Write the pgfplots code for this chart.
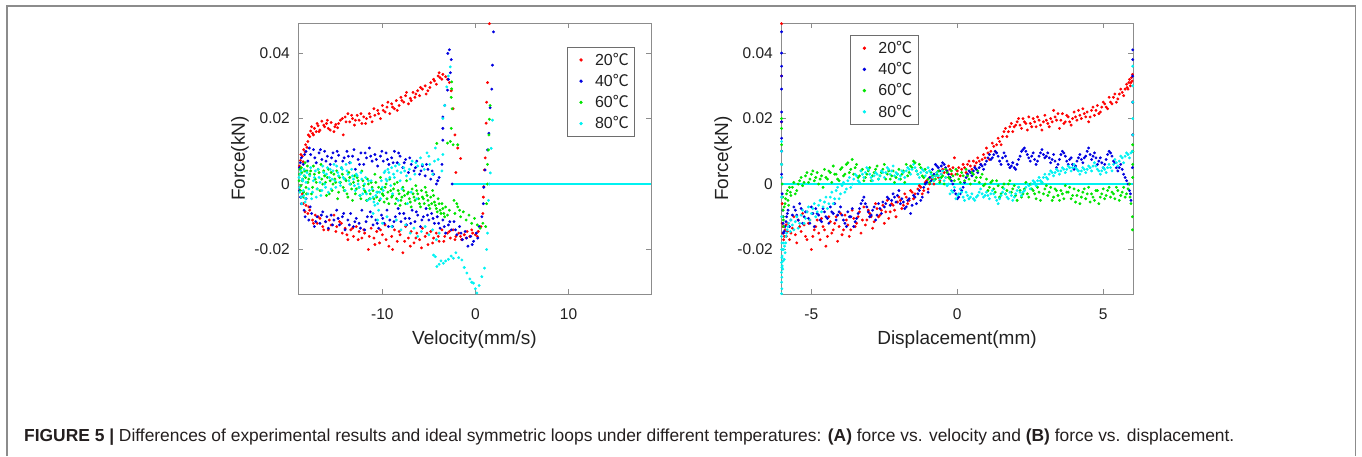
\documentclass[border=0pt]{standalone}
\usepackage{pgfplots}
\usepackage{pgfplotstable}
\pgfplotsset{compat=1.18}
\usepackage{fontspec}
\setmainfont{Liberation Sans}
\newfontfamily\cjk{Noto Sans CJK SC}
\definecolor{mred}{rgb}{1,0,0}
\definecolor{mblue}{rgb}{0,0,0.88}
\definecolor{mgreen}{rgb}{0,0.9,0}
\definecolor{mcyan}{rgb}{0,0.95,0.95}
\definecolor{axgray}{rgb}{0.55,0.55,0.55}
\definecolor{leggray}{rgb}{0.43,0.43,0.43}
\definecolor{txt}{rgb}{0.13,0.13,0.13}
\definecolor{captxt}{rgb}{0.14,0.12,0.12}
\definecolor{framegray}{rgb}{0.55,0.55,0.55}

% ---------------- Panel A: force vs velocity ----------------
\pgfplotstableread{
x y
-18.9 0.0055
-18.8 0.0072
-18.6 0.0085
-18.5 0.0068
-18.3 0.0098
-18.1 0.0112
-18.0 0.0130
-17.8 0.0145
-17.7 0.0162
-17.5 0.0155
-17.3 0.0170
-17.1 0.0160
-16.9 0.0178
-16.7 0.0165
-16.5 0.0192
-16.2 0.0175
-16.0 0.0185
-15.8 0.0170
-15.5 0.0188
-15.2 0.0160
-15.0 0.0182
-14.8 0.0172
-14.5 0.0195
-14.2 0.0150
-14.0 0.0205
-13.7 0.0215
-13.5 0.0190
-13.2 0.0200
-13.0 0.0180
-12.7 0.0210
-12.5 0.0195
-12.2 0.0185
-12.0 0.0205
-11.7 0.0200
-11.4 0.0215
-11.1 0.0190
-10.8 0.0210
-10.5 0.0225
-10.2 0.0200
-10.0 0.0240
-9.7 0.0220
-9.5 0.0235
-9.2 0.0215
-9.0 0.0245
-8.7 0.0230
-8.5 0.0255
-8.2 0.0240
-8.0 0.0265
-7.7 0.0250
-7.5 0.0270
-7.2 0.0245
-7.0 0.0262
-6.7 0.0280
-6.5 0.0265
-6.2 0.0285
-6.0 0.0270
-5.7 0.0290
-5.4 0.0300
-5.1 0.0285
-4.8 0.0310
-4.5 0.0320
-4.2 0.0305
-4.0 0.0330
-3.8 0.0325
-3.5 0.0335
-3.2 0.0328
-3.0 0.0320
-2.8 0.0310
-2.6 0.0285
-2.4 0.0230
-2.2 0.0150
-1.9 0.0110
-1.6 0.0078
-2.1 0.0035
-18.9 -0.0010
-18.7 -0.0040
-18.5 -0.0060
-18.2 -0.0065
-18.0 -0.0090
-17.8 -0.0080
-17.5 -0.0110
-17.2 -0.0095
-17.0 -0.0120
-16.7 -0.0105
-16.4 -0.0130
-16.1 -0.0115
-15.8 -0.0140
-15.5 -0.0125
-15.2 -0.0095
-14.9 -0.0130
-14.6 -0.0115
-14.3 -0.0150
-14.0 -0.0135
-13.7 -0.0170
-13.4 -0.0140
-13.1 -0.0160
-12.8 -0.0130
-12.5 -0.0145
-12.2 -0.0165
-11.9 -0.0150
-11.5 -0.0200
-11.2 -0.0135
-10.9 -0.0165
-10.6 -0.0145
-10.3 -0.0180
-10.0 -0.0155
-9.7 -0.0125
-9.3 -0.0190
-9.0 -0.0160
-8.7 -0.0140
-8.4 -0.0175
-8.1 -0.0155
-7.8 -0.0210
-7.5 -0.0130
-7.2 -0.0165
-6.9 -0.0145
-6.6 -0.0180
-6.3 -0.0150
-6.0 -0.0170
-5.7 -0.0135
-5.4 -0.0160
-5.1 -0.0185
-4.8 -0.0145
-4.5 -0.0165
-4.2 -0.0150
-3.9 -0.0175
-3.6 -0.0140
-3.3 -0.0160
-3.0 -0.0150
-2.7 -0.0165
-2.4 -0.0140
-2.1 -0.0160
-1.8 -0.0150
-1.5 -0.0170
-1.2 -0.0155
-0.9 -0.0145
-0.6 -0.0160
-0.3 -0.0150
0.0 -0.0155
0.3 -0.0145
0.6 -0.0130
0.8 -0.0090
0.85 -0.0040
0.9 -0.0008
0.97 0.0043
1.05 0.0080
1.15 0.0186
1.2 0.0250
1.3 0.0310
1.5 0.0490
}\redA
\pgfplotstableread{
x y
-18.75 0.0090
-18.45 0.0105
-18.25 0.0120
-17.95 0.0150
-17.6 0.0175
-17.4 0.0150
-17.0 0.0185
-16.8 0.0160
-16.3 0.0180
-15.9 0.0195
-15.6 0.0165
-15.1 0.0175
-14.7 0.0185
-14.3 0.0200
-13.9 0.0190
-13.3 0.0210
-12.9 0.0195
-12.3 0.0215
-11.8 0.0185
-11.3 0.0205
-10.9 0.0230
-10.4 0.0215
-9.9 0.0225
-9.4 0.0250
-8.9 0.0235
-8.4 0.0225
-7.9 0.0255
-7.4 0.0280
-6.9 0.0255
-6.4 0.0275
-5.9 0.0295
-5.3 0.0275
-4.9 0.0295
-4.4 0.0315
-3.9 0.0340
-3.6 0.0320
-18.6 -0.0030
-18.3 -0.0085
-17.9 -0.0070
-17.4 -0.0120
-16.9 -0.0100
-16.3 -0.0140
-15.7 -0.0110
-15.0 -0.0145
-14.4 -0.0120
-13.8 -0.0155
-13.2 -0.0135
-12.6 -0.0170
-12.0 -0.0140
-11.4 -0.0160
-10.8 -0.0185
-10.2 -0.0140
-9.6 -0.0170
-8.9 -0.0200
-8.2 -0.0145
-7.6 -0.0175
-7.0 -0.0190
-6.4 -0.0165
-5.8 -0.0195
-5.2 -0.0150
-4.6 -0.0180
-4.0 -0.0160
-3.4 -0.0175
-2.8 -0.0145
-2.2 -0.0170
-1.6 -0.0160
-1.0 -0.0165
-0.4 -0.0140
0.2 -0.0160
}\redAx

\pgfplotstableread{
x y
-18.9 0.0050
-18.7 0.0080
-18.5 0.0060
-18.2 0.0100
-18.0 0.0070
-17.7 0.0090
-17.4 0.0105
-17.1 0.0065
-16.8 0.0095
-16.5 0.0075
-16.2 0.0100
-15.9 0.0085
-15.6 0.0060
-15.3 0.0095
-15.0 0.0070
-14.7 0.0088
-14.4 0.0050
-14.1 0.0080
-13.8 0.0100
-13.5 0.0065
-13.2 0.0085
-12.9 0.0045
-12.6 0.0075
-12.3 0.0095
-12.0 0.0060
-11.7 0.0080
-11.4 0.0110
-11.1 0.0070
-10.8 0.0090
-10.5 0.0055
-10.2 0.0085
-9.9 0.0070
-9.6 0.0095
-9.3 0.0060
-9.0 0.0080
-8.7 0.0100
-8.4 0.0065
-8.1 0.0085
-7.8 0.0050
-7.5 0.0075
-7.2 0.0035
-6.9 0.0060
-6.6 0.0040
-6.3 0.0070
-6.0 0.0030
-5.7 0.0055
-5.4 0.0025
-5.1 0.0045
-4.8 0.0015
-4.5 0.0030
-4.2 0.0000
-3.9 0.0020
-3.6 0.0060
-3.5 0.0134
-3.5 0.0170
-3.5 0.0205
-3.3 0.0240
-3.0 0.0287
-2.9 0.0320
-2.7 0.0340
-2.97 0.0399
-2.8 0.0410
-2.6 0.0380
-2.5 0.0000
-18.9 -0.0020
-18.7 -0.0060
-18.4 -0.0080
-18.2 -0.0045
-17.9 -0.0110
-17.6 -0.0090
-17.3 -0.0130
-17.0 -0.0100
-16.7 -0.0120
-16.4 -0.0085
-16.1 -0.0115
-15.8 -0.0135
-15.5 -0.0095
-15.2 -0.0110
-14.9 -0.0080
-14.6 -0.0125
-14.3 -0.0100
-14.0 -0.0140
-13.7 -0.0110
-13.4 -0.0090
-13.1 -0.0130
-12.8 -0.0105
-12.5 -0.0120
-12.2 -0.0080
-11.9 -0.0140
-11.6 -0.0100
-11.3 -0.0085
-11.0 -0.0125
-10.7 -0.0110
-10.4 -0.0135
-10.1 -0.0095
-9.8 -0.0120
-9.5 -0.0080
-9.2 -0.0110
-8.9 -0.0130
-8.6 -0.0100
-8.3 -0.0075
-8.0 -0.0115
-7.7 -0.0090
-7.4 -0.0125
-7.1 -0.0105
-6.8 -0.0080
-6.5 -0.0115
-6.2 -0.0095
-5.9 -0.0130
-5.6 -0.0100
-5.3 -0.0075
-5.0 -0.0110
-4.7 -0.0090
-4.4 -0.0120
-4.1 -0.0100
-3.8 -0.0135
-3.5 -0.0110
-3.2 -0.0150
-2.9 -0.0125
-2.6 -0.0140
-2.3 -0.0115
-2.0 -0.0155
-1.7 -0.0130
-1.4 -0.0170
-1.1 -0.0145
-0.8 -0.0190
-0.5 -0.0160
-0.2 -0.0175
0.1 -0.0150
0.4 -0.0130
0.7 -0.0100
0.85 -0.0060
0.9 -0.0010
1.04 0.0043
1.3 0.0104
1.44 0.0155
1.58 0.0233
1.76 0.0290
1.83 0.0363
1.94 0.0465
}\blueA
\pgfplotstableread{
x y
-18.8 0.0065
-18.35 0.0090
-17.85 0.0110
-17.25 0.0080
-16.65 0.0105
-16.05 0.0070
-15.45 0.0080
-14.85 0.0100
-14.25 0.0070
-13.65 0.0085
-13.05 0.0105
-12.45 0.0060
-11.85 0.0095
-11.25 0.0085
-10.65 0.0075
-10.05 0.0100
-9.45 0.0075
-8.85 0.0065
-8.25 0.0095
-7.65 0.0065
-7.05 0.0080
-6.45 0.0050
-5.85 0.0040
-5.25 0.0060
-4.65 0.0040
-4.05 0.0010
-18.8 -0.0040
-18.3 -0.0100
-17.75 -0.0070
-17.15 -0.0115
-16.55 -0.0095
-15.95 -0.0100
-15.35 -0.0125
-14.75 -0.0105
-14.15 -0.0090
-13.55 -0.0125
-12.95 -0.0115
-12.35 -0.0135
-11.75 -0.0115
-11.15 -0.0100
-10.55 -0.0120
-9.95 -0.0105
-9.35 -0.0130
-8.75 -0.0115
-8.15 -0.0090
-7.55 -0.0105
-6.95 -0.0120
-6.35 -0.0085
-5.75 -0.0110
-5.15 -0.0095
-4.55 -0.0105
-3.95 -0.0120
-3.35 -0.0130
-2.75 -0.0115
-2.15 -0.0140
-1.55 -0.0150
-0.95 -0.0165
-0.35 -0.0185
0.25 -0.0165
}\blueAx

\pgfplotstableread{
x y
-18.9 0.0030
-18.8 -0.0020
-18.7 0.0050
-18.6 0.0010
-18.5 -0.0040
-18.4 0.0025
-18.3 0.0065
-18.2 -0.0010
-18.1 0.0040
-18.0 0.0005
-17.8 0.0030
-17.6 -0.0030
-17.4 0.0055
-17.2 0.0015
-17.0 -0.0015
-16.8 0.0035
-16.6 0.0060
-16.4 0.0000
-16.2 0.0025
-16.0 -0.0035
-15.8 0.0045
-15.6 0.0010
-15.4 -0.0020
-15.2 0.0030
-15.0 0.0005
-14.8 -0.0045
-14.6 0.0020
-14.4 0.0050
-14.2 -0.0010
-14.0 0.0015
-13.8 -0.0030
-13.6 0.0035
-13.4 0.0000
-13.2 -0.0050
-13.0 0.0025
-12.8 -0.0015
-12.6 0.0010
-12.4 -0.0035
-12.2 0.0040
-12.0 -0.0005
-11.8 -0.0025
-11.6 0.0015
-11.4 -0.0045
-11.2 0.0005
-11.0 -0.0020
-10.8 0.0030
-10.6 -0.0040
-10.4 -0.0010
-10.2 0.0020
-10.0 -0.0030
-9.8 -0.0055
-9.6 0.0000
-9.4 -0.0025
-9.2 0.0015
-9.0 -0.0040
-8.8 -0.0015
-8.6 -0.0060
-8.4 0.0005
-8.2 -0.0030
-8.0 -0.0050
-7.8 -0.0010
-7.6 -0.0035
-7.4 0.0010
-7.2 -0.0025
-7.0 -0.0055
-6.8 -0.0015
-6.6 -0.0040
-6.4 -0.0005
-6.2 -0.0030
-6.0 -0.0060
-5.8 -0.0020
-5.6 -0.0045
-5.4 -0.0010
-5.2 -0.0035
-5.0 -0.0065
-4.8 -0.0040
-4.6 -0.0020
-4.4 -0.0055
-4.2 -0.0075
-4.0 -0.0045
-3.8 -0.0080
-3.6 -0.0060
-3.4 -0.0090
-3.2 -0.0070
-3.0 -0.0095
-4.15 0.0124
-3.0 0.0125
-2.7 0.0130
-2.4 0.0120
-1.9 0.0120
-2.6 0.0170
-2.5 0.0230
-2.6 0.0265
-2.55 0.0291
-2.55 0.0312
-2.3 -0.0050
-2.0 -0.0060
-1.7 -0.0080
-2.8 -0.0080
-2.2 -0.0090
-1.9 -0.0070
-1.6 -0.0100
-1.3 -0.0085
-1.0 -0.0110
-0.7 -0.0095
-0.4 -0.0120
-0.1 -0.0105
0.2 -0.0125
0.5 -0.0135
0.8 -0.0120
1.1 -0.0130
1.2 -0.0060
1.3 0.0000
1.3 0.0060
1.4 0.0104
1.45 0.0150
1.5 0.0198
1.58 0.0240
}\greenA
\pgfplotstableread{
x y
-18.95 0.0010
-18.85 0.0045
-18.75 -0.0005
-18.65 0.0035
-18.55 0.0015
-18.45 -0.0025
-18.35 0.0040
-18.25 0.0020
-18.15 -0.0030
-18.05 0.0055
-17.9 0.0015
-17.7 0.0040
-17.5 -0.0010
-17.3 0.0030
-17.1 0.0005
-16.9 0.0045
-16.7 -0.0020
-16.5 0.0015
-16.3 0.0040
-16.1 0.0005
-15.9 0.0020
-15.7 -0.0030
-15.5 0.0035
-15.3 0.0000
-15.1 0.0015
-14.9 0.0040
-14.7 -0.0025
-14.5 0.0005
-14.3 0.0030
-14.1 -0.0020
-13.9 0.0010
-13.7 -0.0040
-13.5 0.0020
-13.3 -0.0015
-13.1 0.0005
-12.9 -0.0030
-12.7 0.0020
-12.5 -0.0010
-12.3 -0.0045
-12.1 0.0010
-11.9 -0.0020
-11.7 -0.0050
-11.5 0.0000
-11.3 -0.0030
-11.1 -0.0010
-10.9 -0.0045
-10.7 0.0005
-10.5 -0.0025
-10.3 -0.0050
-10.1 -0.0015
-9.9 -0.0035
-9.7 -0.0010
-9.5 -0.0045
-9.3 -0.0060
-9.1 -0.0020
-8.9 -0.0035
-8.7 0.0000
-8.5 -0.0045
-8.3 -0.0020
-8.1 -0.0065
-7.9 -0.0040
-7.7 -0.0020
-7.5 -0.0060
-7.3 -0.0030
-7.1 -0.0045
-6.9 -0.0070
-6.7 -0.0030
-6.5 -0.0050
-6.3 -0.0020
-6.1 -0.0045
-5.9 -0.0070
-5.7 -0.0040
-5.5 -0.0060
-5.3 -0.0025
-5.1 -0.0050
-4.9 -0.0075
-4.7 -0.0060
-4.5 -0.0035
-4.3 -0.0065
-4.1 -0.0085
-3.9 -0.0060
-3.7 -0.0090
-3.5 -0.0075
-3.3 -0.0100
}\greenAx

\pgfplotstableread{
x y
-18.9 -0.0010
-18.8 0.0030
-18.7 -0.0040
-18.6 0.0015
-18.5 -0.0020
-18.4 0.0045
-18.3 -0.0055
-18.2 0.0005
-18.0 -0.0030
-17.8 0.0025
-17.6 -0.0045
-17.4 0.0010
-17.2 0.0040
-17.0 -0.0015
-16.8 0.0020
-16.6 -0.0035
-16.4 0.0055
-16.2 0.0000
-16.0 0.0030
-15.8 -0.0025
-15.6 0.0045
-15.4 0.0015
-15.2 0.0060
-15.0 -0.0010
-14.8 0.0035
-14.6 0.0005
-14.4 0.0050
-14.2 0.0020
-14.0 -0.0020
-13.8 0.0040
-13.6 0.0010
-13.4 0.0065
-13.2 0.0025
-13.0 -0.0005
-12.8 0.0030
-12.6 0.0000
-12.4 -0.0035
-12.2 0.0015
-12.0 -0.0015
-11.8 0.0020
-11.6 -0.0050
-11.4 -0.0020
-11.2 0.0010
-11.0 -0.0040
-10.8 -0.0065
-10.6 -0.0025
-10.4 -0.0080
-10.2 -0.0045
-10.0 -0.0010
-9.8 0.0035
-9.6 0.0015
-9.4 0.0045
-9.2 0.0020
-9.0 0.0050
-8.8 0.0030
-8.6 0.0055
-8.4 0.0040
-8.2 0.0060
-8.0 0.0035
-7.7 0.0050
-7.4 0.0025
-7.1 0.0045
-6.8 0.0070
-6.5 0.0030
-6.2 0.0055
-5.9 0.0080
-5.5 0.0045
-5.2 0.0095
-4.9 0.0060
-4.6 0.0030
-4.3 0.0110
-4.0 0.0075
-8.9 -0.0030
-8.3 -0.0050
-7.9 -0.0015
-7.3 -0.0060
-6.9 -0.0025
-6.3 -0.0045
-11.0 -0.0090
-10.5 -0.0110
-10.0 -0.0120
-9.5 -0.0100
-9.0 -0.0130
-8.5 -0.0110
-8.0 -0.0140
-7.5 -0.0125
-7.0 -0.0150
-6.6 -0.0135
-6.2 -0.0160
-5.8 -0.0145
-5.4 -0.0130
-5.0 -0.0155
-4.6 -0.0140
-4.2 -0.0170
-3.9 -0.0150
-4.5 -0.0217
-4.3 -0.0222
-4.15 -0.0252
-3.9 -0.0245
-3.7 -0.0235
-3.44 -0.0242
-3.2 -0.0235
-2.9 -0.0230
-2.6 -0.0220
-2.37 -0.0227
-2.1 -0.0210
-1.8 -0.0225
-1.46 -0.0232
-1.2 -0.0255
-0.92 -0.0272
-0.6 -0.0290
-0.4 -0.0300
-0.21 -0.0303
0.0 -0.0320
0.15 -0.0333
0.4 -0.0310
0.69 -0.0283
0.97 -0.0257
1.2 -0.0200
1.3 -0.0150
-3.6 0.0040
-3.5 0.0090
-3.5 0.0200
-3.3 0.0240
-3.08 0.0297
-2.9 0.0330
-2.7 0.0358
1.4 -0.0050
1.5 0.0000
1.6 0.0034
1.69 0.0109
1.83 0.0195
}\cyanA
\pgfplotstableread{
x y
-18.95 0.0020
-18.85 -0.0025
-18.75 0.0040
-18.65 -0.0060
-18.55 0.0010
-18.45 -0.0035
-18.35 0.0025
-18.25 -0.0045
-18.1 0.0035
-17.9 -0.0015
-17.7 0.0050
-17.5 -0.0025
-17.3 0.0020
-17.1 -0.0040
-16.9 0.0045
-16.7 0.0005
-16.5 -0.0020
-16.3 0.0035
-16.1 -0.0010
-15.9 0.0050
-15.7 0.0020
-15.5 -0.0015
-15.3 0.0040
-15.1 0.0010
-14.9 0.0055
-14.7 0.0025
-14.5 -0.0005
-14.3 0.0045
-14.1 0.0015
-13.9 0.0060
-13.7 0.0030
-13.5 0.0000
-13.3 0.0045
-13.1 0.0015
-12.9 -0.0020
-12.7 0.0025
-12.5 -0.0010
-12.3 0.0035
-12.1 -0.0030
-11.9 0.0000
-11.7 -0.0030
-11.5 0.0010
-11.3 -0.0045
-11.1 -0.0015
-10.9 -0.0055
-10.7 -0.0035
-10.5 -0.0060
-10.3 -0.0025
-10.1 0.0010
-9.9 -0.0020
-9.7 0.0040
-9.5 0.0010
-9.3 0.0035
-9.1 -0.0005
-8.7 0.0020
-8.1 0.0010
-7.6 0.0040
-7.0 0.0015
-6.4 0.0065
-5.7 0.0060
-5.0 0.0085
-4.4 0.0070
}\cyanAx

% ---------------- Panel B: force vs displacement ----------------
\pgfplotstableread{
x y
-6.02 0.0490
-6.02 0.0330
-6.02 0.0190
-6.02 0.0100
-6.02 0.0020
-6.0 -0.0060
-6.0 -0.0120
-5.98 -0.0150
-5.95 -0.0170
-5.9 -0.0140
-5.85 -0.0160
-5.8 -0.0120
-5.7 -0.0150
-5.6 -0.0100
-5.5 -0.0180
-5.4 -0.0130
-5.3 -0.0090
-5.2 -0.0160
-5.1 -0.0120
-5.0 -0.0200
-4.9 -0.0140
-4.8 -0.0110
-4.7 -0.0170
-4.6 -0.0130
-4.5 -0.0190
-4.4 -0.0100
-4.3 -0.0150
-4.2 -0.0120
-4.1 -0.0175
-4.0 -0.0090
-3.9 -0.0140
-3.8 -0.0110
-3.7 -0.0160
-3.6 -0.0080
-3.5 -0.0130
-3.4 -0.0100
-3.3 -0.0150
-3.2 -0.0070
-3.1 -0.0110
-3.0 -0.0090
-2.9 -0.0135
-2.8 -0.0060
-2.7 -0.0100
-2.6 -0.0080
-2.5 -0.0120
-2.4 -0.0050
-2.3 -0.0085
-2.2 -0.0065
-2.1 -0.0100
-2.0 -0.0040
-1.9 -0.0075
-1.8 -0.0030
-1.7 -0.0060
-1.6 -0.0020
-1.5 -0.0045
-1.3 -0.0005
-1.2 -0.0030
-1.1 0.0005
-1.0 -0.0015
-0.9 0.0020
-0.8 0.0000
-0.7 0.0035
-0.6 0.0010
-0.5 0.0045
-0.4 0.0020
-0.3 0.0055
-0.2 0.0030
-0.1 0.0080
0.0 0.0040
0.1 0.0025
0.2 0.0060
0.3 0.0035
0.4 0.0070
0.5 0.0045
0.6 0.0055
0.7 0.0080
0.8 0.0060
0.9 0.0090
1.0 0.0110
1.1 0.0075
1.2 0.0125
1.3 0.0100
1.4 0.0140
1.5 0.0120
1.6 0.0160
1.7 0.0145
1.8 0.0175
1.9 0.0160
2.0 0.0180
2.1 0.0200
2.2 0.0170
2.3 0.0190
2.4 0.0165
2.5 0.0185
2.6 0.0200
2.7 0.0175
2.8 0.0195
2.9 0.0165
3.0 0.0210
3.1 0.0185
3.2 0.0200
3.3 0.0225
3.4 0.0195
3.5 0.0170
3.6 0.0215
3.7 0.0190
3.8 0.0205
3.9 0.0180
4.0 0.0220
4.1 0.0195
4.2 0.0210
4.3 0.0230
4.4 0.0205
4.5 0.0190
4.6 0.0225
4.7 0.0210
4.8 0.0240
4.9 0.0220
5.0 0.0250
5.1 0.0235
5.2 0.0265
5.3 0.0245
5.4 0.0275
5.5 0.0260
5.6 0.0290
5.7 0.0270
5.8 0.0305
5.85 0.0290
5.9 0.0320
5.95 0.0310
6.0 0.0335
6.01 0.0250
6.01 0.0150
6.01 0.0100
}\redB
\pgfplotstableread{
x y
-5.97 -0.0130
-5.93 -0.0160
-5.87 -0.0125
-5.82 -0.0145
-5.75 -0.0170
-5.65 -0.0135
-5.55 -0.0155
-5.45 -0.0110
-5.35 -0.0145
-5.25 -0.0125
-5.15 -0.0170
-5.05 -0.0110
-4.95 -0.0160
-4.85 -0.0130
-4.75 -0.0150
-4.65 -0.0105
-4.55 -0.0140
-4.45 -0.0160
-4.35 -0.0115
-4.25 -0.0140
-4.15 -0.0100
-4.05 -0.0130
-3.95 -0.0155
-3.85 -0.0095
-3.75 -0.0125
-3.65 -0.0140
-3.55 -0.0105
-3.45 -0.0120
-3.35 -0.0085
-3.25 -0.0110
-3.15 -0.0125
-3.05 -0.0080
-2.95 -0.0100
-2.85 -0.0115
-2.75 -0.0075
-2.65 -0.0095
-2.55 -0.0065
-2.45 -0.0085
-2.35 -0.0105
-2.25 -0.0060
-2.15 -0.0080
-2.05 -0.0055
-1.95 -0.0050
-1.85 -0.0065
-1.75 -0.0040
-1.65 -0.0050
-1.55 -0.0025
-1.45 -0.0030
-1.35 -0.0015
-1.25 -0.0010
-1.15 -0.0020
-1.05 0.0010
-0.95 0.0000
-0.85 0.0015
-0.75 0.0025
-0.65 0.0020
-0.55 0.0030
-0.45 0.0035
-0.35 0.0040
-0.25 0.0045
-0.15 0.0050
-0.05 0.0030
0.05 0.0050
0.15 0.0045
0.25 0.0050
0.35 0.0060
0.45 0.0055
0.55 0.0070
0.65 0.0065
0.75 0.0070
0.85 0.0075
0.95 0.0080
1.05 0.0095
1.15 0.0100
1.25 0.0115
1.35 0.0120
1.45 0.0130
1.55 0.0145
1.65 0.0170
1.75 0.0160
1.85 0.0185
1.95 0.0175
2.05 0.0190
2.15 0.0180
2.25 0.0200
2.35 0.0185
2.45 0.0205
2.55 0.0175
2.65 0.0190
2.75 0.0205
2.85 0.0180
2.95 0.0190
3.05 0.0195
3.15 0.0175
3.25 0.0190
3.35 0.0205
3.45 0.0215
3.55 0.0195
3.65 0.0185
3.75 0.0210
3.85 0.0190
3.95 0.0200
4.05 0.0205
4.15 0.0225
4.25 0.0200
4.35 0.0215
4.45 0.0220
4.55 0.0205
4.65 0.0235
4.75 0.0225
4.85 0.0215
4.95 0.0235
5.05 0.0245
5.15 0.0230
5.25 0.0250
5.35 0.0265
5.45 0.0250
5.55 0.0275
5.65 0.0280
5.75 0.0290
5.82 0.0295
5.88 0.0310
5.93 0.0300
5.97 0.0325
5.99 0.0315
}\redBx

\pgfplotstableread{
x y
-6.02 0.0465
-6.02 0.0400
-6.02 0.0360
-6.02 0.0330
-6.02 0.0290
-6.02 0.0220
-6.02 0.0190
-6.02 0.0140
-6.02 0.0100
-6.02 0.0060
-6.02 0.0030
-6.0 -0.0030
-5.98 -0.0080
-5.97 -0.0120
-5.96 -0.0150
-5.9 -0.0130
-5.85 -0.0100
-5.8 -0.0080
-5.7 -0.0110
-5.6 -0.0070
-5.5 -0.0095
-5.4 -0.0060
-5.3 -0.0120
-5.2 -0.0085
-5.1 -0.0105
-5.0 -0.0070
-4.9 -0.0130
-4.8 -0.0090
-4.7 -0.0110
-4.6 -0.0075
-4.5 -0.0100
-4.4 -0.0120
-4.3 -0.0085
-4.2 -0.0060
-4.1 -0.0095
-4.0 -0.0070
-3.9 -0.0110
-3.8 -0.0130
-3.7 -0.0100
-3.6 -0.0075
-3.5 -0.0115
-3.4 -0.0090
-3.3 -0.0060
-3.2 -0.0040
-3.1 -0.0070
-3.0 -0.0100
-2.9 -0.0080
-2.8 -0.0110
-2.7 -0.0060
-2.6 -0.0090
-2.5 -0.0070
-2.4 -0.0040
-2.3 -0.0065
-2.2 -0.0030
-2.1 -0.0055
-2.0 -0.0020
-1.9 -0.0045
-1.8 -0.0075
-1.7 -0.0050
-1.6 -0.0090
-1.5 -0.0035
-1.4 -0.0060
-1.3 -0.0020
-1.2 -0.0040
-1.1 0.0000
-1.0 -0.0025
-0.9 0.0010
-0.8 0.0030
-0.7 0.0055
-0.6 0.0040
-0.5 0.0065
-0.4 0.0050
-0.3 0.0030
-0.2 0.0010
-0.1 -0.0020
0.0 -0.0045
0.1 -0.0030
0.2 -0.0010
0.3 0.0020
0.4 0.0040
0.5 0.0025
0.6 0.0050
0.7 0.0035
0.8 0.0060
0.9 0.0045
1.0 0.0070
1.1 0.0090
1.2 0.0080
1.3 0.0100
1.4 0.0085
1.5 0.0060
1.6 0.0095
1.7 0.0070
1.8 0.0050
1.9 0.0065
2.0 0.0045
2.1 0.0075
2.2 0.0100
2.3 0.0110
2.4 0.0090
2.5 0.0070
2.6 0.0095
2.7 0.0060
2.8 0.0085
2.9 0.0105
3.0 0.0080
3.1 0.0095
3.2 0.0065
3.3 0.0090
3.4 0.0050
3.5 0.0075
3.6 0.0100
3.7 0.0085
3.8 0.0060
3.9 0.0080
4.0 0.0045
4.1 0.0070
4.2 0.0090
4.3 0.0065
4.4 0.0085
4.5 0.0110
4.6 0.0075
4.7 0.0095
4.8 0.0060
4.9 0.0080
5.0 0.0050
5.1 0.0075
5.2 0.0100
5.3 0.0085
5.4 0.0065
5.5 0.0040
5.6 0.0060
5.7 0.0030
5.8 0.0010
5.9 -0.0020
5.95 -0.0050
6.0 0.0050
6.01 0.0150
6.01 0.0250
6.01 0.0330
6.01 0.0380
6.01 0.0410
}\blueB
\pgfplotstableread{
x y
-5.97 -0.0100
-5.93 -0.0145
-5.87 -0.0115
-5.82 -0.0090
-5.75 -0.0130
-5.65 -0.0095
-5.55 -0.0080
-5.45 -0.0110
-5.35 -0.0075
-5.25 -0.0100
-5.15 -0.0085
-5.05 -0.0120
-4.95 -0.0090
-4.85 -0.0075
-4.75 -0.0095
-4.65 -0.0115
-4.55 -0.0085
-4.45 -0.0105
-4.35 -0.0070
-4.25 -0.0090
-4.15 -0.0110
-4.05 -0.0085
-3.95 -0.0095
-3.85 -0.0120
-3.75 -0.0085
-3.65 -0.0100
-3.55 -0.0130
-3.45 -0.0105
-3.35 -0.0075
-3.25 -0.0050
-3.15 -0.0060
-3.05 -0.0085
-2.95 -0.0095
-2.85 -0.0070
-2.75 -0.0095
-2.65 -0.0075
-2.55 -0.0055
-2.45 -0.0060
-2.35 -0.0045
-2.25 -0.0050
-2.15 -0.0040
-2.05 -0.0035
-1.95 -0.0060
-1.85 -0.0055
-1.75 -0.0070
-1.65 -0.0045
-1.55 -0.0065
-1.45 -0.0040
-1.35 -0.0030
-1.25 -0.0050
-1.15 -0.0010
-1.05 0.0005
-0.95 0.0020
-0.85 0.0045
-0.75 0.0060
-0.65 0.0050
-0.55 0.0055
-0.45 0.0060
-0.35 0.0040
-0.25 0.0020
-0.15 0.0000
-0.05 -0.0030
0.05 -0.0040
0.15 -0.0020
0.25 0.0005
0.35 0.0030
0.45 0.0035
0.55 0.0040
0.65 0.0045
0.75 0.0050
0.85 0.0055
0.95 0.0060
1.05 0.0080
1.15 0.0075
1.25 0.0090
1.35 0.0095
1.45 0.0070
1.55 0.0080
1.65 0.0085
1.75 0.0060
1.85 0.0055
1.95 0.0050
2.05 0.0060
2.15 0.0085
2.25 0.0105
2.35 0.0100
2.45 0.0080
2.55 0.0085
2.65 0.0075
2.75 0.0070
2.85 0.0095
2.95 0.0090
3.05 0.0085
3.15 0.0080
3.25 0.0075
3.35 0.0070
3.45 0.0060
3.55 0.0090
3.65 0.0095
3.75 0.0070
3.85 0.0075
3.95 0.0060
4.05 0.0055
4.15 0.0080
4.25 0.0075
4.35 0.0080
4.45 0.0100
4.55 0.0090
4.65 0.0085
4.75 0.0080
4.85 0.0070
4.95 0.0065
5.05 0.0060
5.15 0.0090
5.25 0.0095
5.35 0.0070
5.45 0.0050
5.55 0.0050
5.65 0.0045
5.75 0.0020
5.85 0.0000
5.93 -0.0030
}\blueBx

\pgfplotstableread{
x y
-6.02 0.0200
-6.02 0.0170
-6.02 0.0120
-6.02 0.0060
-6.0 0.0000
-5.98 -0.0040
-5.97 -0.0080
-5.96 -0.0110
-5.95 -0.0130
-5.9 -0.0060
-5.85 -0.0030
-5.8 -0.0050
-5.75 -0.0010
-5.7 -0.0035
-5.6 0.0005
-5.5 -0.0020
-5.4 0.0010
-5.3 -0.0005
-5.2 0.0025
-5.1 0.0005
-5.0 0.0030
-4.9 0.0010
-4.8 0.0035
-4.7 0.0015
-4.6 -0.0010
-4.5 0.0020
-4.4 0.0040
-4.3 0.0005
-4.2 0.0030
-4.1 0.0015
-4.0 0.0045
-3.9 0.0025
-3.8 0.0060
-3.7 0.0035
-3.6 0.0075
-3.5 0.0050
-3.4 0.0020
-3.3 0.0040
-3.2 0.0010
-3.1 0.0030
-3.0 0.0050
-2.9 0.0025
-2.8 0.0045
-2.7 0.0015
-2.6 0.0035
-2.5 0.0060
-2.4 0.0030
-2.3 0.0015
-2.2 0.0040
-2.1 0.0020
-2.0 0.0045
-1.9 0.0030
-1.8 0.0005
-1.7 0.0025
-1.6 0.0055
-1.5 0.0070
-1.4 0.0040
-1.3 0.0060
-1.2 0.0025
-1.1 0.0045
-1.0 0.0015
-0.9 0.0035
-0.8 0.0010
-0.7 0.0030
-0.6 0.0005
-0.5 0.0025
-0.4 0.0045
-0.3 0.0020
-0.2 0.0040
-0.1 0.0010
0.0 0.0030
0.1 0.0005
0.2 0.0025
0.3 0.0045
0.4 0.0015
0.5 0.0035
0.6 0.0010
0.7 0.0040
0.8 0.0020
0.9 -0.0005
1.0 0.0015
1.1 -0.0010
1.2 0.0010
1.3 -0.0025
1.4 -0.0005
1.5 -0.0030
1.6 0.0000
1.7 -0.0020
1.8 0.0010
1.9 -0.0015
2.0 -0.0035
2.1 -0.0010
2.2 -0.0040
2.3 -0.0015
2.4 -0.0030
2.5 0.0000
2.6 -0.0020
2.7 -0.0045
2.8 -0.0025
2.9 0.0005
3.0 -0.0015
3.1 -0.0035
3.2 -0.0010
3.3 -0.0040
3.4 -0.0020
3.5 -0.0050
3.6 -0.0030
3.7 -0.0005
3.8 -0.0025
3.9 -0.0045
4.0 -0.0015
4.1 -0.0035
4.2 -0.0060
4.3 -0.0025
4.4 -0.0045
4.5 -0.0010
4.6 -0.0030
4.7 -0.0050
4.8 -0.0020
4.9 -0.0040
5.0 -0.0015
5.1 -0.0035
5.2 -0.0010
5.3 -0.0025
5.4 -0.0045
5.5 -0.0020
5.6 -0.0035
5.7 -0.0010
5.8 -0.0030
5.9 0.0000
5.95 -0.0060
6.0 -0.0100
6.0 -0.0140
6.01 0.0020
6.01 0.0060
6.01 0.0100
6.01 0.0120
}\greenB
\pgfplotstableread{
x y
-5.97 -0.0100
-5.93 -0.0070
-5.88 -0.0045
-5.82 -0.0020
-5.78 -0.0065
-5.72 -0.0025
-5.65 -0.0010
-5.55 -0.0030
-5.45 0.0000
-5.35 0.0020
-5.25 0.0005
-5.15 0.0035
-5.05 0.0015
-4.95 0.0040
-4.85 0.0020
-4.75 0.0000
-4.65 0.0025
-4.55 0.0045
-4.45 0.0015
-4.35 0.0035
-4.25 0.0055
-4.15 0.0030
-4.05 0.0010
-3.95 0.0050
-3.85 0.0030
-3.75 0.0065
-3.65 0.0045
-3.55 0.0030
-3.45 0.0060
-3.35 0.0025
-3.25 0.0045
-3.15 0.0020
-3.05 0.0040
-2.95 0.0010
-2.85 0.0035
-2.75 0.0055
-2.65 0.0025
-2.55 0.0045
-2.45 0.0015
-2.35 0.0040
-2.25 0.0025
-2.15 0.0005
-2.05 0.0030
-1.95 0.0015
-1.85 0.0040
-1.75 0.0060
-1.65 0.0035
-1.55 0.0050
-1.45 0.0065
-1.35 0.0030
-1.25 0.0050
-1.15 0.0020
-1.05 0.0035
-0.95 0.0005
-0.85 0.0025
-0.75 0.0015
-0.65 0.0040
-0.55 0.0020
-0.45 0.0000
-0.35 0.0035
-0.25 0.0015
-0.15 0.0025
-0.05 0.0045
0.05 0.0015
0.15 0.0035
0.25 0.0010
0.35 0.0025
0.45 0.0000
0.55 0.0030
0.65 0.0020
0.75 0.0005
0.85 0.0030
0.95 0.0000
1.05 -0.0020
1.15 0.0005
1.25 -0.0015
1.35 0.0010
1.45 -0.0040
1.55 -0.0010
1.65 -0.0030
1.75 0.0000
1.85 -0.0025
1.95 -0.0005
2.05 -0.0050
2.15 -0.0020
2.25 -0.0030
2.35 0.0005
2.45 -0.0040
2.55 -0.0015
2.65 -0.0030
2.75 -0.0010
2.85 -0.0050
2.95 -0.0030
3.05 -0.0005
3.15 -0.0025
3.25 -0.0050
3.35 -0.0015
3.45 -0.0035
3.55 -0.0020
3.65 -0.0045
3.75 -0.0025
3.85 -0.0010
3.95 -0.0035
4.05 -0.0055
4.15 -0.0020
4.25 -0.0040
4.35 -0.0015
4.45 -0.0030
4.55 -0.0055
4.65 -0.0040
4.75 -0.0020
4.85 -0.0060
4.95 -0.0030
5.05 -0.0045
5.15 -0.0020
5.25 -0.0040
5.35 -0.0030
5.45 -0.0010
5.55 -0.0050
5.65 -0.0025
5.75 -0.0040
5.85 -0.0015
5.92 -0.0040
}\greenBx

\pgfplotstableread{
x y
-6.02 0.0130
-6.02 0.0100
-6.02 0.0060
-6.02 0.0020
-6.02 -0.0040
-6.02 -0.0100
-6.02 -0.0160
-6.02 -0.0200
-6.02 -0.0240
-6.02 -0.0270
-6.02 -0.0300
-6.02 -0.0335
-6.0 -0.0220
-5.98 -0.0260
-5.95 -0.0200
-5.93 -0.0230
-5.9 -0.0210
-5.88 -0.0180
-5.85 -0.0150
-5.8 -0.0130
-5.7 -0.0110
-5.6 -0.0140
-5.5 -0.0100
-5.4 -0.0120
-5.3 -0.0080
-5.2 -0.0105
-5.1 -0.0070
-5.0 -0.0090
-4.9 -0.0060
-4.8 -0.0085
-4.7 -0.0050
-4.6 -0.0070
-4.5 -0.0040
-4.4 -0.0060
-4.3 -0.0025
-4.2 -0.0045
-4.1 -0.0010
-4.0 -0.0030
-3.9 0.0005
-3.8 -0.0015
-3.7 0.0020
-3.6 0.0000
-3.5 0.0030
-3.4 0.0010
-3.3 0.0040
-3.2 0.0020
-3.1 0.0050
-3.0 0.0030
-2.9 0.0010
-2.8 0.0035
-2.7 0.0015
-2.6 0.0040
-2.5 0.0020
-2.4 0.0050
-2.3 0.0030
-2.2 0.0055
-2.1 0.0035
-2.0 0.0015
-1.9 0.0040
-1.8 0.0020
-1.7 0.0050
-1.6 0.0030
-1.5 0.0060
-1.4 0.0040
-1.3 0.0020
-1.2 0.0045
-1.1 0.0025
-1.0 0.0050
-0.9 0.0030
-0.8 0.0010
-0.7 0.0035
-0.6 0.0015
-0.5 0.0040
-0.4 0.0020
-0.3 0.0000
-0.2 -0.0020
-0.1 -0.0010
0.0 -0.0035
0.1 -0.0015
0.2 -0.0040
0.3 -0.0025
0.4 -0.0045
0.5 -0.0030
0.6 -0.0050
0.7 -0.0035
0.8 -0.0015
0.9 -0.0040
1.0 -0.0025
1.1 -0.0045
1.2 -0.0020
1.3 -0.0040
1.4 -0.0060
1.5 -0.0035
1.6 -0.0015
1.7 -0.0040
1.8 -0.0025
1.9 -0.0050
2.0 -0.0030
2.1 -0.0010
2.2 -0.0035
2.3 -0.0020
2.4 0.0000
2.5 -0.0015
2.6 0.0010
2.7 -0.0005
2.8 0.0020
2.9 0.0005
3.0 0.0030
3.1 0.0015
3.2 0.0040
3.3 0.0025
3.4 0.0045
3.5 0.0030
3.6 0.0050
3.7 0.0035
3.8 0.0055
3.9 0.0040
4.0 0.0060
4.1 0.0045
4.2 0.0030
4.3 0.0050
4.4 0.0035
4.5 0.0055
4.6 0.0040
4.7 0.0065
4.8 0.0045
4.9 0.0030
5.0 0.0050
5.1 0.0035
5.2 0.0060
5.3 0.0040
5.4 0.0075
5.5 0.0055
5.6 0.0085
5.7 0.0065
5.8 0.0095
5.9 0.0080
6.0 0.0100
6.01 0.0150
6.01 0.0200
6.01 0.0250
6.01 0.0300
6.01 0.0360
}\cyanB
\pgfplotstableread{
x y
-6.01 -0.0320
-6.01 -0.0285
-6.01 -0.0255
-6.01 -0.0225
-6.01 -0.0180
-6.0 -0.0250
-5.99 -0.0200
-5.97 -0.0235
-5.96 -0.0180
-5.92 -0.0190
-5.87 -0.0160
-5.83 -0.0140
-5.78 -0.0120
-5.72 -0.0145
-5.65 -0.0125
-5.55 -0.0115
-5.45 -0.0135
-5.35 -0.0095
-5.25 -0.0120
-5.15 -0.0085
-5.05 -0.0110
-4.95 -0.0075
-4.85 -0.0100
-4.75 -0.0065
-4.65 -0.0085
-4.55 -0.0055
-4.45 -0.0075
-4.35 -0.0040
-4.25 -0.0060
-4.15 -0.0020
-4.05 -0.0045
-3.95 -0.0005
-3.85 -0.0025
-3.75 0.0010
-3.65 -0.0010
-3.55 0.0015
-3.45 0.0025
-3.35 0.0005
-3.25 0.0030
-3.15 0.0035
-3.05 0.0045
-2.95 0.0020
-2.85 0.0025
-2.75 0.0030
-2.65 0.0025
-2.55 0.0035
-2.45 0.0035
-2.35 0.0045
-2.25 0.0040
-2.15 0.0025
-2.05 0.0030
-1.95 0.0025
-1.85 0.0035
-1.75 0.0040
-1.65 0.0045
-1.55 0.0045
-1.45 0.0050
-1.35 0.0030
-1.25 0.0035
-1.15 0.0040
-1.05 0.0035
-0.95 0.0040
-0.85 0.0020
-0.75 0.0025
-0.65 0.0025
-0.55 0.0030
-0.45 0.0010
-0.35 -0.0005
-0.25 -0.0030
-0.15 -0.0025
-0.05 -0.0045
0.05 -0.0030
0.15 -0.0025
0.25 -0.0050
0.35 -0.0035
0.45 -0.0040
0.55 -0.0045
0.65 -0.0040
0.75 -0.0025
0.85 -0.0030
0.95 -0.0035
1.05 -0.0035
1.15 -0.0030
1.25 -0.0030
1.35 -0.0050
1.45 -0.0045
1.55 -0.0025
1.65 -0.0030
1.75 -0.0045
1.85 -0.0035
1.95 -0.0040
2.05 -0.0020
2.15 -0.0025
2.25 -0.0025
2.35 -0.0010
2.45 -0.0005
2.55 0.0000
2.65 0.0005
2.75 0.0010
2.85 0.0010
2.95 0.0020
3.05 0.0020
3.15 0.0030
3.25 0.0035
3.35 0.0035
3.45 0.0040
3.55 0.0040
3.65 0.0045
3.75 0.0045
3.85 0.0050
3.95 0.0050
4.05 0.0050
4.15 0.0040
4.25 0.0040
4.35 0.0045
4.45 0.0045
4.55 0.0050
4.65 0.0055
4.75 0.0055
4.85 0.0040
4.95 0.0040
5.05 0.0045
5.15 0.0050
5.25 0.0050
5.35 0.0060
5.45 0.0065
5.55 0.0070
5.65 0.0080
5.75 0.0085
5.85 0.0090
5.95 0.0095
}\cyanBx

\pgfplotsset{
  panel/.style={
    scale only axis, height=271pt,
    axis line style={draw=axgray, line width=0.9pt},
    every tick/.style={draw=axgray, line width=0.9pt},
    tick align=inside, major tick length=5pt,
    ymin=-0.0336, ymax=0.0492,
    ytick={-0.02,0,0.02,0.04}, yticklabels={-0.02,0,0.02,0.04},
    scaled ticks=false,
    ticklabel style={font=\fontsize{15.5}{18}\selectfont, text=txt},
    yticklabel style={anchor=east, inner sep=0pt, xshift=-8pt},
    xticklabel style={anchor=base, inner sep=0pt, yshift=-25pt},
    label style={font=\fontsize{19}{22}\selectfont, text=txt},
    xlabel style={at={(axis description cs:0.5,-0.1845)}, anchor=base},
    ylabel style={at={(axis description cs:-0.1643,0.5)}, anchor=center},
    legend style={draw=leggray, fill=white, line width=0.8pt,
      font=\fontsize{16}{18}\selectfont, text=txt, row sep=3.5pt,
      inner xsep=4pt, inner ysep=4pt, cells={anchor=west}},
  },
  pt/.style={only marks, mark=*, mark size=1.25pt, mark options={draw=none},
    legend image code/.code={\draw[##1] plot coordinates {(10pt,0pt)};
      \path[draw=none, fill=none] (0pt,0pt) -- (22pt,0pt);}},
}

\begin{document}
\begin{tikzpicture}[x=1pt,y=1pt]
\useasboundingbox (0,0) rectangle (1362,456);
% outer frame
\draw[framegray, line width=1.8pt] (7.3,0) -- (7.3,449.7) -- (1355.5,449.7) -- (1355.5,0);

% Panel A
\begin{axis}[panel, at={(298pt,162pt)}, anchor=south west, width=353pt,
  xmin=-19.06, xmax=18.86, xtick={-10,0,10}, xticklabels={-10,0,10},
  xlabel={Velocity(mm/s)}, ylabel={Force(kN)},
  legend style={at={(0.761,0.9125)}, anchor=north west}]
\addplot[pt, color=mred, fill=mred] table {\redA};
\addlegendentry{20{\cjk ℃}}
\addplot[pt, color=mred, fill=mred, forget plot] table {\redAx};
\addplot[pt, color=mblue, fill=mblue] table {\blueA};
\addlegendentry{40{\cjk ℃}}
\addplot[pt, color=mblue, fill=mblue, forget plot] table {\blueAx};
\addplot[pt, color=mgreen, fill=mgreen] table {\greenA};
\addlegendentry{60{\cjk ℃}}
\addplot[pt, color=mgreen, fill=mgreen, forget plot] table {\greenAx};
\addplot[pt, color=mcyan, fill=mcyan] table {\cyanA};
\addlegendentry{80{\cjk ℃}}
\addplot[pt, color=mcyan, fill=mcyan, forget plot] table {\cyanAx};
\addplot[mcyan, line width=2.4pt, forget plot] coordinates {(-2.5,0) (18.86,0)};
\node[font=\bfseries\fontsize{19}{22}\selectfont, text=black, anchor=base] at (axis description cs:0.4745,-0.3173) {A};
\end{axis}

% Panel B
\begin{axis}[panel, at={(781pt,162pt)}, anchor=south west, width=352pt,
  xmin=-6.04, xmax=6.02, xtick={-5,0,5}, xticklabels={-5,0,5},
  xlabel={Displacement(mm)}, ylabel={Force(kN)},
  legend style={at={(0.196,0.956)}, anchor=north west}]
\addplot[pt, color=mred, fill=mred] table {\redB};
\addlegendentry{20{\cjk ℃}}
\addplot[pt, color=mred, fill=mred, forget plot] table {\redBx};
\addplot[pt, color=mblue, fill=mblue] table {\blueB};
\addlegendentry{40{\cjk ℃}}
\addplot[pt, color=mblue, fill=mblue, forget plot] table {\blueBx};
\addplot[pt, color=mgreen, fill=mgreen] table {\greenB};
\addlegendentry{60{\cjk ℃}}
\addplot[pt, color=mgreen, fill=mgreen, forget plot] table {\greenBx};
\addplot[pt, color=mcyan, fill=mcyan] table {\cyanB};
\addlegendentry{80{\cjk ℃}}
\addplot[pt, color=mcyan, fill=mcyan, forget plot] table {\cyanBx};
\addplot[mcyan, line width=2.4pt, forget plot] coordinates {(-6.04,0) (6.02,0)};
\node[font=\bfseries\fontsize{19}{22}\selectfont, text=black, anchor=base] at (axis description cs:0.4526,-0.3173) {B};
\end{axis}

% caption
\node[anchor=base west, inner sep=0pt, font=\fontsize{17.4}{20}\selectfont, text=captxt] at (24,15)
 {\textbf{FIGURE 5 |} Differences of experimental results and ideal symmetric loops under different temperatures: \textbf{(A)} force vs. velocity and \textbf{(B)} force vs. displacement.};
\end{tikzpicture}
\end{document}
